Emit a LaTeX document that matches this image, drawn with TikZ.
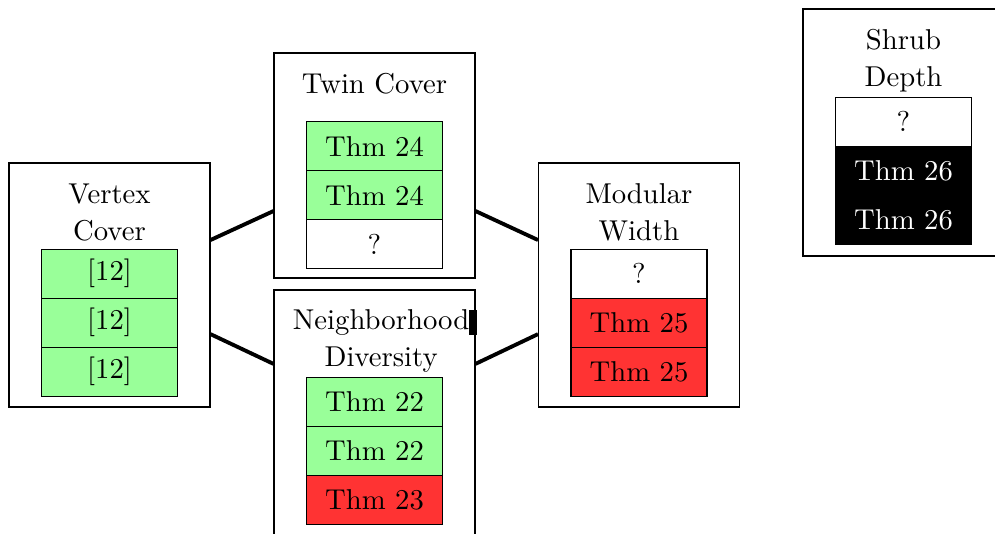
\documentclass[tikz,border=0pt]{standalone}
\usetikzlibrary{positioning}

\begin{document}
\begin{tikzpicture}[x=0.3623pt, y=-0.3623pt,
	font=\fontsize{10.4pt}{13.4pt}\selectfont,
	panel/.style={draw, rectangle, minimum width=72.8pt, minimum height=88.4pt},
	title/.style={align=center, inner sep=0pt},
	cell/.style={draw, rectangle, minimum width=49.3pt, minimum height=17.75pt, inner sep=0pt, outer sep=0pt},
	greencell/.style={cell, fill=green!40},
	redcell/.style={cell, fill=red!80},
	whitecell/.style={cell, fill=white},
	blackcell/.style={cell, fill=black, text=white},
	link/.style={line width=1.4pt}]
	
	\useasboundingbox (0,0) rectangle (995,533);
	
	% Vertex Cover
	\node[panel] (vc) at (109.5,285) {};
	\node[title, below=7.5pt of vc.north] (vct) {Vertex\\Cover};
	\node[greencell, below=2.8pt of vct] (vc1) {[12]};
	\node[greencell, below=0pt of vc1] (vc2) {[12]};
	\node[greencell, below=0pt of vc2] (vc3) {[12]};
	
	% Twin Cover
	\node[panel, minimum height=81.5pt] (tc) at (374.5,165.5) {};
	\node[title, below=7.5pt of tc.north] (tct) {Twin Cover};
	\node[greencell, below=9.6pt of tct] (tc1) {Thm 24};
	\node[greencell, below=0pt of tc1] (tc2) {Thm 24};
	\node[whitecell, below=0pt of tc2] (tc3) {?};
	
	% Neighborhood Diversity
	\node[panel, minimum height=89.1pt] (nd) at (374.5,413) {};
	\node[title, below=7.2pt of nd.north, xshift=2.4pt] (ndt) {Neighborhood\\Diversity};
	\node[greencell, below=1.4pt of ndt.south -| nd] (nd1) {Thm 22};
	\node[greencell, below=0pt of nd1] (nd2) {Thm 22};
	\node[redcell, below=0pt of nd2] (nd3) {Thm 23};
	\fill (469,310) rectangle (477,335);
	
	% Modular Width
	\node[panel] (mw) at (639,285) {};
	\node[title, below=7.5pt of mw.north] (mwt) {Modular\\Width};
	\node[whitecell, below=2.7pt of mwt] (mw1) {?};
	\node[redcell, below=0pt of mw1] (mw2) {Thm 25};
	\node[redcell, below=0pt of mw2] (mw3) {Thm 25};
	
	% Shrub Depth
	\node[panel, minimum height=89.5pt] (sd) at (903.5,132.5) {};
	\node[title, below=7.2pt of sd.north] (sdt) {Shrub\\Depth};
	\node[whitecell, below=1.8pt of sdt] (sd1) {?};
	\node[blackcell, below=0pt of sd1] (sd2) {Thm 26};
	\node[blackcell, below=0pt of sd2] (sd3) {Thm 26};
	
	% links
	\draw[link] ([yshift=16.3pt]vc.east) -- ([yshift=-16.5pt]tc.west);
	\draw[link] ([yshift=-17.8pt]vc.east) -- ([yshift=17.8pt]nd.west);
	\draw[link] ([yshift=-16.5pt]tc.east) -- ([yshift=16.3pt]mw.west);
	\draw[link] ([yshift=17.8pt]nd.east) -- ([yshift=-17.8pt]mw.west);
	
\end{tikzpicture}
\end{document}
